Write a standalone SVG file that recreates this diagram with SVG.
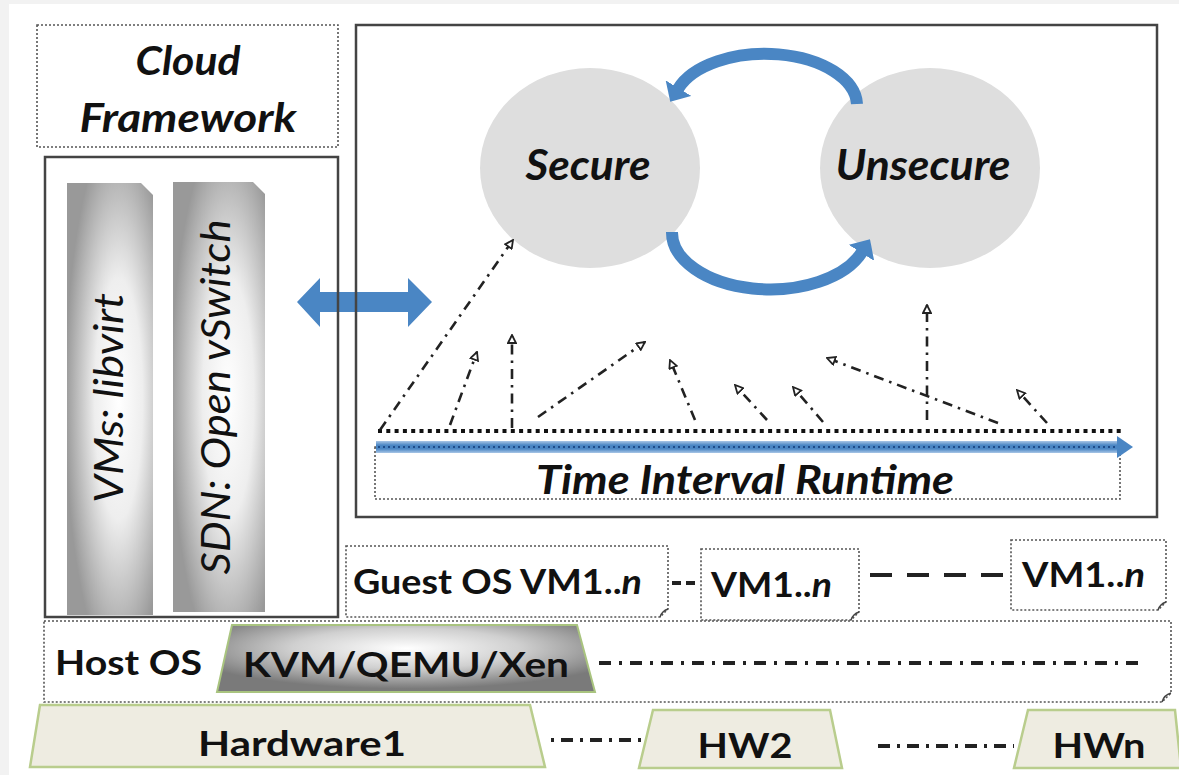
<svg xmlns="http://www.w3.org/2000/svg" width="1179" height="775" viewBox="0 0 1179 775">
<style>
.t{font-family:Lato,"Liberation Sans",sans-serif;fill:#111}
.bi{font-weight:bold;font-style:italic}
.i{font-style:italic}
.b{font-weight:bold}
.dot{fill:none;stroke:#555;stroke-width:1.6;stroke-dasharray:2 2}
.solid{fill:none;stroke:#444;stroke-width:2.5}
.dd{fill:none;stroke:#222;stroke-width:2.6;stroke-dasharray:10 6 2.5 6}
.hw{fill:#eeece1;stroke:#b9cd8d;stroke-width:2.5}
.blue{fill:none;stroke:#4a86c4;stroke-width:12}
</style>
<defs>
<radialGradient id="barG" cx="0.6" cy="0.5" r="0.62">
<stop offset="0" stop-color="#ffffff"/>
<stop offset="0.45" stop-color="#eeeeee"/>
<stop offset="1" stop-color="#999999"/>
</radialGradient>
<radialGradient id="kvmG" cx="0.5" cy="0.35" r="0.6">
<stop offset="0" stop-color="#ffffff"/>
<stop offset="0.5" stop-color="#d0d0d0"/>
<stop offset="1" stop-color="#7a7a7a"/>
</radialGradient>
<linearGradient id="tlG" x1="0" y1="0" x2="0" y2="1">
<stop offset="0" stop-color="#a9c6e6"/>
<stop offset="0.35" stop-color="#4a86c4"/>
<stop offset="0.65" stop-color="#4a86c4"/>
<stop offset="1" stop-color="#a9c6e6"/>
</linearGradient>
<marker id="tri" viewBox="0 0 10 10" refX="9" refY="5" markerWidth="10" markerHeight="10" markerUnits="userSpaceOnUse" orient="auto">
<path d="M1,1 L9,5 L1,9 z" fill="#fff" stroke="#222" stroke-width="1.8"/>
</marker>
<marker id="bh" viewBox="0 0 16 30" refX="1" refY="15" markerWidth="16" markerHeight="30" markerUnits="userSpaceOnUse" orient="auto">
<path d="M0,0 L16,15 L0,30 z" fill="#4a86c4"/>
</marker>
</defs>
<rect x="0" y="0" width="1179" height="775" fill="#f2f2f2"/>
<rect x="9" y="4" width="1170" height="771" fill="#ffffff"/>

<g id="cloud-framework">
<rect class="dot" x="37" y="25" width="301" height="122"/>
<text class="t bi" x="188" y="75" font-size="40" text-anchor="middle" textLength="105" lengthAdjust="spacingAndGlyphs">Cloud</text>
<text class="t bi" x="188" y="132" font-size="40" text-anchor="middle" textLength="217" lengthAdjust="spacingAndGlyphs">Framework</text>
</g>

<g id="vms-libvirt">
<path d="M67,183 H141 L153,195 V615 H67 Z" fill="url(#barG)"/>
<text class="t i" transform="translate(123,398) rotate(-90)" font-size="40" text-anchor="middle" textLength="210" lengthAdjust="spacingAndGlyphs">VMs: libvirt</text>
</g>

<g id="sdn-ovs">
<path d="M173,182 H253 L265,194 V612 H173 Z" fill="url(#barG)"/>
<text class="t i" transform="translate(230,397) rotate(-90)" font-size="40" text-anchor="middle" textLength="355" lengthAdjust="spacingAndGlyphs">SDN: Open vSwitch</text>
</g>

<g id="secure">
<ellipse cx="590" cy="168" rx="110" ry="100" fill="#dedede"/>
<text class="t bi" x="588" y="180" font-size="42" text-anchor="middle" textLength="125" lengthAdjust="spacingAndGlyphs">Secure</text>
</g>

<g id="unsecure">
<ellipse cx="930" cy="168" rx="110" ry="100" fill="#dedede"/>
<text class="t bi" x="923" y="180" font-size="42" text-anchor="middle" textLength="175" lengthAdjust="spacingAndGlyphs">Unsecure</text>
</g>

<g id="timeline">
<line x1="378" y1="431" x2="1122" y2="431" stroke="#111" stroke-width="4" stroke-dasharray="4 4.3"/>
<rect class="dot" x="375" y="447" width="745" height="52"/>
<rect x="376" y="441" width="742" height="12" fill="url(#tlG)"/>
<line x1="378" y1="447" x2="1118" y2="447" stroke="#1f4d8a" stroke-width="2" stroke-dasharray="2 3"/>
<polygon points="1117,436 1133,447 1117,458" fill="#4a86c4"/>
<text class="t bi" x="745" y="494" font-size="40" text-anchor="middle" textLength="418" lengthAdjust="spacingAndGlyphs">Time Interval Runtime</text>
</g>

<g id="guest-os">
<path class="dot" d="M346,546 H668 V609 L660,617 H346 Z"/>
<path d="M660,617 Q662,611 668,609" fill="none" stroke="#444" stroke-width="1.5"/>
<text class="t b" x="353" y="594" font-size="34" textLength="289" lengthAdjust="spacingAndGlyphs">Guest OS VM1..<tspan class="i">n</tspan></text>
</g>

<g id="vm-2">
<path class="dot" d="M701,549 H859 V612 L851,620 H701 Z"/>
<path d="M851,620 Q853,614 859,612" fill="none" stroke="#444" stroke-width="1.5"/>
<text class="t b" x="711" y="597" font-size="34" textLength="121" lengthAdjust="spacingAndGlyphs">VM1..<tspan class="i">n</tspan></text>
</g>

<g id="vm-n">
<path class="dot" d="M1011,540 H1166 V602 L1158,610 H1011 Z"/>
<path d="M1158,610 Q1160,604 1166,602" fill="none" stroke="#444" stroke-width="1.5"/>
<text class="t b" x="1022" y="587" font-size="34" textLength="123" lengthAdjust="spacingAndGlyphs">VM1..<tspan class="i">n</tspan></text>
</g>

<g id="host-os">
<path class="dot" d="M44,621 H1171 V693 L1162,702 H44 Z"/>
<path d="M1162,702 Q1164,695 1171,693" fill="none" stroke="#444" stroke-width="1.5"/>
<text class="t b" x="55" y="675" font-size="34" textLength="147" lengthAdjust="spacingAndGlyphs">Host OS</text>
</g>

<g id="hypervisor">
<polygon points="232,625 577,625 595,692 217,692" fill="url(#kvmG)" stroke="#a9c47f" stroke-width="2"/>
<text class="t b" x="406" y="677" font-size="34" text-anchor="middle" textLength="326" lengthAdjust="spacingAndGlyphs">KVM/QEMU/Xen</text>
</g>

<g id="hardware1">
<polygon class="hw" points="40,705 530,705 545,767 30,767"/>
<text class="t b" x="302" y="756" font-size="34" text-anchor="middle" textLength="208" lengthAdjust="spacingAndGlyphs">Hardware1</text>
</g>

<g id="hw2">
<polygon class="hw" points="653,710 830,710 842,768 639,768"/>
<text class="t b" x="745" y="758" font-size="34" text-anchor="middle" textLength="95" lengthAdjust="spacingAndGlyphs">HW2</text>
</g>

<g id="hwn">
<polygon class="hw" points="1028,710 1175,710 1181,768 1014,768"/>
<text class="t b" x="1099" y="758" font-size="34" text-anchor="middle" textLength="93" lengthAdjust="spacingAndGlyphs">HWn</text>
</g>

<g id="connectors">
<polygon points="297,302 320,278 320,292 408,292 408,278 432,302 408,327 408,312 320,312 320,327" fill="#4a86c4"/>
<rect class="solid" x="45" y="157" width="293" height="460"/>
<rect class="solid" x="356" y="25" width="801" height="492" stroke-width="3"/>
<path class="blue" d="M857,104 A92,52 0 0 0 678,89" marker-end="url(#bh)"/>
<path class="blue" d="M672,232 A98,57 0 0 0 862,252" marker-end="url(#bh)"/>
<line class="dd" x1="380" y1="430" x2="513" y2="240" marker-end="url(#tri)"/>
<line class="dd" x1="450" y1="425" x2="477" y2="352" marker-end="url(#tri)"/>
<line class="dd" x1="512" y1="428" x2="512" y2="335" marker-end="url(#tri)"/>
<line class="dd" x1="538" y1="417" x2="645" y2="342" marker-end="url(#tri)"/>
<line class="dd" x1="695" y1="420" x2="670" y2="360" marker-end="url(#tri)"/>
<line class="dd" x1="767" y1="420" x2="735" y2="385" marker-end="url(#tri)"/>
<line class="dd" x1="823" y1="422" x2="793" y2="387" marker-end="url(#tri)"/>
<line class="dd" x1="927" y1="420" x2="927" y2="305" marker-end="url(#tri)"/>
<line class="dd" x1="998" y1="423" x2="827" y2="358" marker-end="url(#tri)"/>
<line class="dd" x1="1047" y1="423" x2="1017" y2="390" marker-end="url(#tri)"/>
<line x1="672" y1="583" x2="697" y2="583" stroke="#222" stroke-width="4" stroke-dasharray="9 5"/>
<line x1="870" y1="575" x2="1003" y2="575" stroke="#222" stroke-width="4" stroke-dasharray="22 15"/>
<line x1="599" y1="663" x2="1145" y2="663" stroke="#222" stroke-width="4" stroke-dasharray="12 8 3 8"/>
<line x1="551" y1="740" x2="647" y2="740" stroke="#222" stroke-width="4" stroke-dasharray="3 7 12 7"/>
<line x1="878" y1="746" x2="1014" y2="746" stroke="#222" stroke-width="4" stroke-dasharray="12 7 3 7"/>
</g>
</svg>
